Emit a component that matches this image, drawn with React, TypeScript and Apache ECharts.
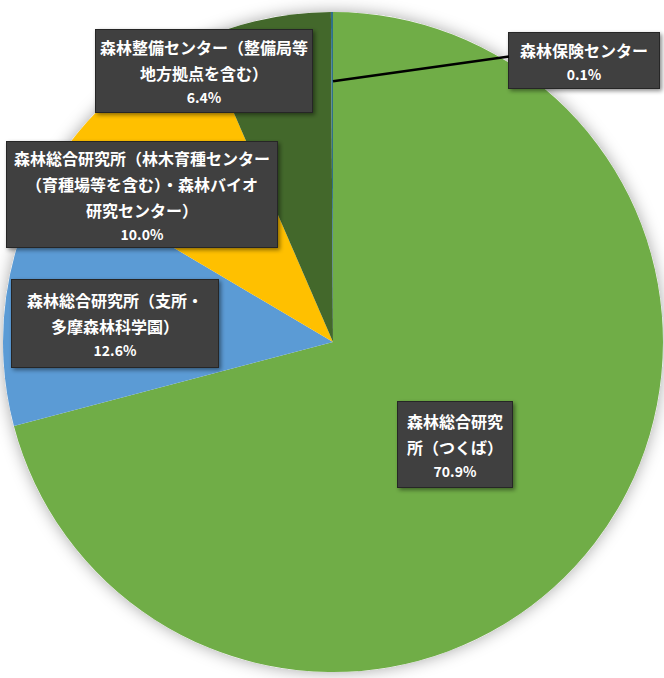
import React, { useEffect, useRef } from "react";
import * as echarts from "echarts";

const categories = [
  "森林総合研究所（つくば）",
  "森林総合研究所（支所・多摩森林科学園）",
  "森林総合研究所（林木育種センター（育種場等を含む）・森林バイオ研究センター）",
  "森林整備センター（整備局等地方拠点を含む）",
  "森林保険センター",
];
const labelTexts = [
  "森林総合研究\n所（つくば）",
  "森林総合研究所（支所・\n多摩森林科学園）",
  "森林総合研究所（林木育種センター\n（育種場等を含む）・森林バイオ\n研究センター）",
  "森林整備センター（整備局等\n地方拠点を含む）",
  "森林保険センター",
];
const shares = [70.9, 12.6, 10.0, 6.4, 0.1];
const colors = ["#70AD47", "#5B9BD5", "#FFC000", "#43682B", "#2F7088"];

// label box layout: center x, center y, width, height
const boxes = [
  { cx: 455, cy: 444.5, w: 114, h: 85 },
  { cx: 115, cy: 323.5, w: 206, h: 87 },
  { cx: 142, cy: 194.5, w: 270, h: 105 },
  { cx: 204, cy: 71, w: 216, h: 82 },
  { cx: 584, cy: 60.5, w: 150, h: 55 },
];

const CX = 333;
const CY = 342;
const R = 330;
const NAME_LH = 26;
const PCT_LH = 22;

export default function App() {
  const ref = useRef<HTMLDivElement>(null);
  useEffect(() => {
    if (!ref.current) return;
    const chart = echarts.init(ref.current, null, { renderer: "svg" });
    const data = categories.map((name, i) => {
      const b = boxes[i];
      const lines = labelTexts[i].split("\n").length;
      const vpad = (b.h - (lines * NAME_LH + PCT_LH)) / 2;
      return {
        name,
        value: shares[i],
        itemStyle: { color: colors[i] },
        label: {
          width: b.w - 4,
          padding: [vpad, 2, vpad, 2],
        },
      };
    });
    const lb = boxes[4];
    chart.setOption({
      animation: false,
      graphic: {
        elements: [
          {
            type: "circle",
            z: 0,
            silent: true,
            shape: { cx: CX, cy: CY, r: R },
            style: {
              fill: "#ffffff",
              shadowBlur: 16,
              shadowColor: "rgba(0,0,0,0.35)",
            },
          },
          {
            type: "line",
            z: 100,
            silent: true,
            shape: {
              x1: CX,
              y1: CY - R * 0.79,
              x2: lb.cx - lb.w / 2,
              y2: lb.cy - 4,
            },
            style: { stroke: "#000000", lineWidth: 2.5 },
          },
        ],
      },
      series: [
        {
          type: "pie",
          z: 2,
          center: [CX, CY],
          radius: R,
          startAngle: 90,
          clockwise: true,
          avoidLabelOverlap: false,
          data,
          label: {
            show: true,
            position: "outside",
            align: "center",
            overflow: "none",
            backgroundColor: "#3f3f3f",
            borderColor: "#262626",
            borderWidth: 1,
            shadowColor: "rgba(0,0,0,0.45)",
            shadowBlur: 4,
            shadowOffsetX: 2,
            shadowOffsetY: 2,
            formatter: (p: any) =>
              `{n|${labelTexts[p.dataIndex]}}\n{p|${Number(p.value).toFixed(1)}%}`,
            rich: {
              n: {
                fontFamily: "Noto Sans CJK JP",
                fontSize: 16,
                fontWeight: "bold",
                color: "#ffffff",
                lineHeight: NAME_LH,
                align: "center",
              },
              p: {
                fontFamily: "Noto Sans CJK JP",
                fontSize: 14,
                fontWeight: "bold",
                color: "#ffffff",
                lineHeight: PCT_LH,
                align: "center",
              },
            },
          },
          labelLine: { show: false },
          labelLayout: (params: any) => {
            const b = boxes[params.dataIndex];
            return {
              x: b.cx,
              y: b.cy,
              align: "center",
              verticalAlign: "middle",
            };
          },
        },
      ],
    });
    return () => chart.dispose();
  }, []);
  return (
    <div
      ref={ref}
      style={{ position: "absolute", left: 0, top: 0, width: 664, height: 678 }}
    />
  );
}
